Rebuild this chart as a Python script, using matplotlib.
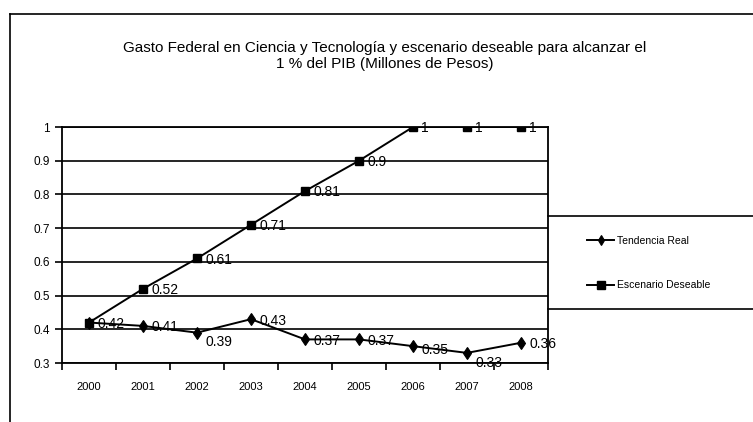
import matplotlib.pyplot as plt
from matplotlib.lines import Line2D

plt.rcParams['font.family'] = ['Liberation Sans', 'DejaVu Sans']

years = ['2000', '2001', '2002', '2003', '2004', '2005', '2006', '2007', '2008']
tendencia_real = [0.42, 0.41, 0.39, 0.43, 0.37, 0.37, 0.35, 0.33, 0.36]
escenario_deseable = [0.42, 0.52, 0.61, 0.71, 0.81, 0.9, 1, 1, 1]
y_ticks = [0.3, 0.4, 0.5, 0.6, 0.7, 0.8, 0.9, 1.0]
y_tick_labels = ['0.3', '0.4', '0.5', '0.6', '0.7', '0.8', '0.9', '1']

fig = plt.figure(figsize=(7.53, 4.22), dpi=100)
ax = fig.add_axes([62 / 753, 1 - 363 / 422, 486 / 753, 236 / 422])

x = list(range(len(years)))
ax.plot(x, tendencia_real, color='black', lw=1.4, marker='d', ms=6,
        mew=0.8, label='Tendencia Real', zorder=3)
ax.plot(x, escenario_deseable, color='black', lw=1.4, marker='s', ms=6,
        label='Escenario Deseable', zorder=3)

# data labels (to the right of each point)
for i, v in enumerate(escenario_deseable):
    txt = '1' if v == 1 else str(v)
    ax.annotate(txt, (i, v), xytext=(6, -1), textcoords='offset points',
                ha='left', va='center', fontsize=10)
low = {2: -7, 7: -7, 6: -3}
for i, v in enumerate(tendencia_real):
    if i == 0:
        continue  # hidden behind the other series' label
    ax.annotate(str(v), (i, v), xytext=(6, low.get(i, -1)), textcoords='offset points',
                ha='left', va='center', fontsize=10)

ax.set_xlim(-0.5, len(years) - 0.5)
ax.set_ylim(0.3, 1.0)
ax.set_yticks(y_ticks)
ax.set_yticklabels(y_tick_labels, fontsize=8.5)
ax.set_xticks(x)
ax.set_xticklabels(years, fontsize=8)
ax.set_xticks([i - 0.5 for i in range(len(years) + 1)], minor=True)
ax.tick_params(axis='x', which='major', length=0, pad=14)
ax.tick_params(axis='x', which='minor', length=5, width=1.2, direction='out')
ax.tick_params(axis='y', length=5, width=1.2, direction='out', pad=4)
ax.grid(axis='y', color='black', lw=1.2)
for s in ax.spines.values():
    s.set_linewidth(1.3)

fig.text(385 / 753, 1 - 56 / 422,
         'Gasto Federal en Ciencia y Tecnología y escenario deseable para alcanzar el\n'
         '1 % del PIB (Millones de Pesos)', fontsize=11, ha='center', va='center',
         linespacing=1.2)

# legend panel
fig.add_artist(Line2D([548 / 753, 1], [1 - 216 / 422, 1 - 216 / 422], color='black', lw=1.2))
fig.add_artist(Line2D([548 / 753, 1], [1 - 309 / 422, 1 - 309 / 422], color='black', lw=1.2))
fig.legend(loc='center left', bbox_to_anchor=(578 / 753, 1 - 263 / 422), frameon=False,
           fontsize=7.5, handlelength=2.6, labelspacing=3.3, handletextpad=0.2,
           markerscale=0.9)

# outer chart frame
fig.add_artist(Line2D([10 / 753, 1], [1 - 14 / 422, 1 - 14 / 422], color='black', lw=1.2))
fig.add_artist(Line2D([10 / 753, 10 / 753], [0, 1 - 14 / 422], color='black', lw=1.2))

fig.savefig('out.png', dpi=100)
